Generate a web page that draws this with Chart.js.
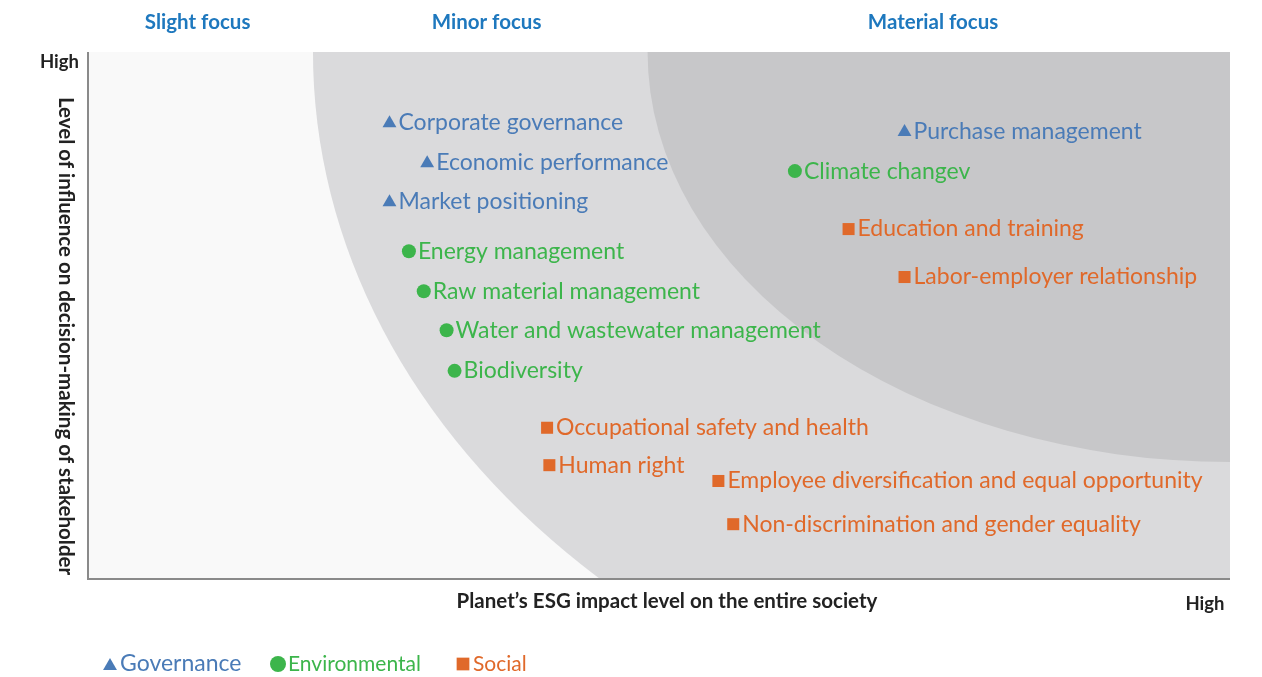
<!DOCTYPE html>
<html>
<head>
<meta charset="utf-8">
<script src="https://cdn.jsdelivr.net/npm/chart.js@4.4.0/dist/chart.umd.min.js"></script>
<style>
  html, body { margin: 0; padding: 0; background: #fff; }
  #wrap { width: 1262px; height: 677px; }
</style>
</head>
<body>
<div id="wrap"><canvas id="matrix"></canvas></div>
<script>
// MATERIALITY MATRIX DATA
// x = impact on society, y = influence on stakeholders (0 - 100)
const governanceTopics = ["Corporate governance", "Economic performance", "Market positioning", "Purchase management"];
const governanceX = [26.4, 29.7, 26.4, 71.5];
const governanceY = [86.5, 78.9, 71.5, 84.8];

const environmentalTopics = ["Energy management", "Raw material management", "Water and wastewater management", "Biodiversity", "Climate changev"];
const environmentalX = [28.1, 29.4, 31.4, 32.1, 61.9];
const environmentalY = [62.2, 54.6, 47.2, 39.5, 77.4];

const socialTopics = ["Occupational safety and health", "Human right", "Employee diversification and equal opportunity", "Non-discrimination and gender equality", "Education and training", "Labor-employer relationship"];
const socialX = [40.2, 40.4, 55.2, 56.5, 66.6, 71.5];
const socialY = [28.7, 21.6, 18.6, 10.4, 66.4, 57.3];

const focusLabels = ["Slight focus", "Minor focus", "Material focus"];
const seriesNames = ["Governance", "Environmental", "Social"];

const BLUE = "#4a7bb7";
const GREEN = "#3cb54b";
const ORANGE = "#e0692a";
const FONT = "Lato";

function toPoints(xs, ys) {
  return xs.map((x, i) => ({ x: x, y: ys[i] }));
}

// background zones + axes + titles
const backdrop = {
  id: "backdrop",
  beforeDatasetsDraw(chart) {
    const { ctx, chartArea: a, scales } = chart;
    const cx = scales.x.getPixelForValue(100);
    const cy = scales.y.getPixelForValue(100);
    const sx = (v) => cx - scales.x.getPixelForValue(100 - v);
    const sy = (v) => scales.y.getPixelForValue(100 - v) - cy;

    ctx.save();
    ctx.beginPath();
    ctx.rect(a.left, a.top, a.right - a.left, a.bottom - a.top);
    ctx.clip();
    ctx.fillStyle = "#f9f9f9";
    ctx.fillRect(a.left, a.top, a.right - a.left, a.bottom - a.top);
    // minor focus zone
    ctx.fillStyle = "#dadadc";
    ctx.beginPath();
    ctx.ellipse(cx, cy, sx(80.3), sy(137.6), 0, 0, Math.PI * 2);
    ctx.fill();
    // material focus zone
    ctx.fillStyle = "#c7c7c9";
    ctx.beginPath();
    ctx.ellipse(cx, cy, sx(51.0), sy(77.8), 0, 0, Math.PI * 2);
    ctx.fill();
    ctx.restore();

    // axis lines
    ctx.save();
    ctx.strokeStyle = "#8a8a8a";
    ctx.lineWidth = 2;
    ctx.beginPath();
    ctx.moveTo(a.left, a.top);
    ctx.lineTo(a.left, a.bottom);
    ctx.lineTo(a.right, a.bottom);
    ctx.stroke();

    // focus headers
    const headerX = [9.6, 34.9, 74.0];
    ctx.fillStyle = "#1e78be";
    ctx.font = "bold 20.5px " + FONT;
    ctx.textAlign = "center";
    ctx.textBaseline = "middle";
    focusLabels.forEach((t, i) => {
      ctx.fillText(t, scales.x.getPixelForValue(headerX[i]), 22);
    });

    // axis titles
    ctx.fillStyle = "#222";
    ctx.font = "bold 18.5px " + FONT;
    ctx.textAlign = "right";
    ctx.fillText("High", a.left - 9, a.top + 10);
    ctx.textAlign = "center";
    ctx.fillText("High", a.right - 25, a.bottom + 25);
    ctx.font = "bold 20.5px " + FONT;
    ctx.fillText("Planet\u2019s ESG impact level on the entire society", 667, a.bottom + 22);

    ctx.translate(a.left - 22, 336);
    ctx.rotate(Math.PI / 2);
    ctx.fillText("Level of influence on decision-making of stakeholder", 0, 0);
    ctx.restore();
  },
  afterDatasetsDraw(chart) {
    const { ctx } = chart;
    ctx.save();
    ctx.font = "23px " + FONT;
    ctx.textAlign = "left";
    ctx.textBaseline = "middle";
    chart.data.datasets.forEach((ds, di) => {
      const meta = chart.getDatasetMeta(di);
      const dy = ds.pointStyle === "triangle" ? -1 : 0;
      meta.data.forEach((el, i) => {
        ctx.fillStyle = ds.backgroundColor;
        ctx.fillText(ds.topics[i], el.x + 9, el.y + dy);
      });
    });

    // legend
    const items = [
      { style: "triangle", radius: 8, color: BLUE, x: 110, size: 23 },
      { style: "circle", radius: 8, color: GREEN, x: 278, size: 21 },
      { style: "rect", radius: 9, color: ORANGE, x: 463, size: 21 },
    ];
    items.forEach((it, i) => {
      ctx.fillStyle = it.color;
      ctx.strokeStyle = it.color;
      Chart.helpers.drawPoint(ctx, { pointStyle: it.style, radius: it.radius, rotation: 0, borderWidth: 0 }, it.x, it.style === "triangle" ? 666 : 664);
      ctx.font = it.size + "px " + FONT;
      ctx.fillText(seriesNames[i], it.x + 10, 664);
    });
    ctx.restore();
  },
};

const ctx = document.getElementById("matrix").getContext("2d");

new Chart(ctx, {
  type: "scatter",
  data: {
    datasets: [
      {
        label: seriesNames[0],
        topics: governanceTopics,
        data: toPoints(governanceX, governanceY),
        pointStyle: "triangle",
        pointRadius: 8,
        backgroundColor: BLUE,
        borderWidth: 0,
      },
      {
        label: seriesNames[1],
        topics: environmentalTopics,
        data: toPoints(environmentalX, environmentalY),
        pointStyle: "circle",
        pointRadius: 7,
        backgroundColor: GREEN,
        borderWidth: 0,
      },
      {
        label: seriesNames[2],
        topics: socialTopics,
        data: toPoints(socialX, socialY),
        pointStyle: "rect",
        pointRadius: 8.5,
        backgroundColor: ORANGE,
        borderWidth: 0,
      },
    ],
  },
  options: {
    responsive: true,
    maintainAspectRatio: false,
    animation: false,
    layout: { padding: { left: 88, top: 52, right: 32, bottom: 98 } },
    plugins: {
      legend: { display: false },
      tooltip: { enabled: false },
    },
    scales: {
      x: { type: "linear", min: 0, max: 100, display: false },
      y: { type: "linear", min: 0, max: 100, display: false },
    },
  },
  plugins: [backdrop],
});
</script>
</body>
</html>
